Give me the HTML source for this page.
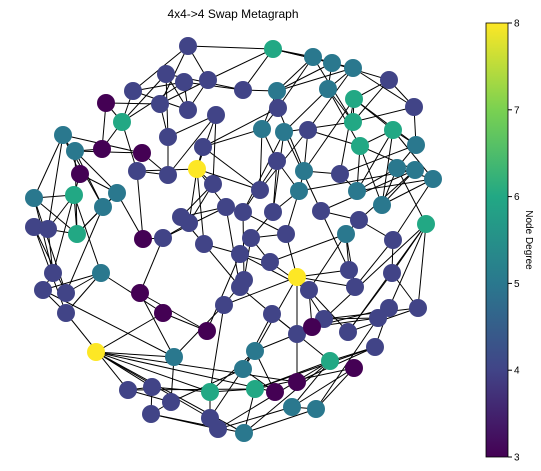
<!DOCTYPE html>
<html><head><meta charset="utf-8"><style>
body{margin:0;background:#fff;}
svg{display:block;font-family:"Liberation Sans",sans-serif;}
</style></head><body>
<svg id="c" width="541" height="471">
<defs><linearGradient id="vir" x1="0" y1="1" x2="0" y2="0">
<stop offset="0" stop-color="#440154"/><stop offset="0.2" stop-color="#414487"/><stop offset="0.4" stop-color="#2a788e"/><stop offset="0.6" stop-color="#22a884"/><stop offset="0.8" stop-color="#7ad151"/><stop offset="1" stop-color="#fde725"/></linearGradient></defs>
<text x="233" y="18" text-anchor="middle" font-size="12">4x4-&gt;4 Swap Metagraph</text>
<g id="edges"></g>
<g id="nodes"></g>
<rect x="486" y="23" width="22" height="434" fill="url(#vir)" stroke="#000" stroke-width="0.8"/>
<g id="cbticks"></g>
<text transform="translate(526,240) rotate(90)" text-anchor="middle" font-size="10">Node Degree</text>
</svg>
<script>
const nodeX=[188,273,313,332,353,389,166,184,208,133,106,160,188,216,243,277,328,354,414,278,122,63,75,102,142,168,203,262,284,308,353,393,360,416,80,137,168,197,213,277,304,340,397,415,433,34,74,117,103,260,299,357,382,34,48,77,143,163,181,189,226,243,273,321,359,346,426,393,204,251,240,286,270,53,101,43,66,66,140,163,207,224,244,240,297,309,349,355,392,389,418,378,324,348,272,297,312,375,96,174,255,243,330,354,128,152,171,210,255,275,297,151,210,218,244,292,316];
const nodeY=[46,49,57,63,68,80,74,82,80,91,103,104,110,115,90,91,89,99,107,108,122,135,151,149,153,137,147,129,132,130,122,130,146,145,174,171,175,169,184,161,171,174,168,170,179,198,195,193,207,190,191,191,205,227,229,234,239,238,217,223,207,212,212,211,220,234,224,240,244,238,254,234,262,273,273,290,293,313,293,313,331,305,280,287,277,290,270,287,273,308,308,318,319,332,314,334,327,347,352,357,351,369,361,368,390,387,402,392,389,392,382,414,418,429,433,407,409];
const nodeDeg=[4,6,5,5,5,4,4,4,4,4,3,4,4,4,4,5,5,6,4,4,6,5,5,3,3,4,4,5,5,4,6,6,6,5,3,4,4,8,4,4,5,4,5,5,5,5,6,5,5,4,5,5,5,4,4,6,3,4,4,4,4,4,4,4,4,5,6,4,4,4,4,4,4,4,5,4,4,4,3,3,3,4,4,4,8,4,4,4,4,4,4,4,4,4,4,4,3,4,8,5,5,5,6,3,4,4,4,6,6,3,3,4,4,4,5,5,5];
const cbTicks=[3,4,5,6,7,8];
const colors={3:"#440154",4:"#414487",5:"#2a788e",6:"#22a884",7:"#7ad151",8:"#fde725"};
const NS="http://www.w3.org/2000/svg";
const eg=document.getElementById('edges'),ng=document.getElementById('nodes'),tg=document.getElementById('cbticks');
const n=nodeX.length,set=new Set(),cnt=new Array(n).fill(0);
for(let pass=0;pass<2;pass++){
for(let i=0;i<n;i++){
  const d=[];for(let j=0;j<n;j++)if(j!==i)d.push([Math.hypot(nodeX[i]-nodeX[j],nodeY[i]-nodeY[j]),j]);
  d.sort((a,b)=>a[0]-b[0]);
  let idx=0;
  for(const [dist,j] of d){idx++;if(cnt[i]>=nodeDeg[i])break;
    if(pass===0&&(idx%2===0||idx===1&&i%3===0))continue;
    const k=i<j?i+'-'+j:j+'-'+i;if(set.has(k)||cnt[j]>=nodeDeg[j])continue;set.add(k);cnt[i]++;cnt[j]++;}
}}
set.forEach(k=>{const [a,b]=k.split('-').map(Number);const l=document.createElementNS(NS,'line');
l.setAttribute('x1',nodeX[a]);l.setAttribute('y1',nodeY[a]);l.setAttribute('x2',nodeX[b]);l.setAttribute('y2',nodeY[b]);
l.setAttribute('stroke','#000');l.setAttribute('stroke-width','1');


eg.appendChild(l);});
for(let i=0;i<n;i++){const c=document.createElementNS(NS,'circle');
c.setAttribute('cx',nodeX[i]);c.setAttribute('cy',nodeY[i]);c.setAttribute('r','9');c.setAttribute('fill',colors[nodeDeg[i]]);


ng.appendChild(c);}
const yS=v=>457-(v-3)*(434/5);
cbTicks.forEach(v=>{const y=yS(v);const l=document.createElementNS(NS,'line');
l.setAttribute('x1',508);l.setAttribute('x2',512);l.setAttribute('y1',y);l.setAttribute('y2',y);l.setAttribute('stroke','#000');


tg.appendChild(l);
const t=document.createElementNS(NS,'text');t.setAttribute('x',514);t.setAttribute('y',y+3.5);t.setAttribute('font-size','10');t.textContent=v;


tg.appendChild(t);});
</script>
</body></html>
